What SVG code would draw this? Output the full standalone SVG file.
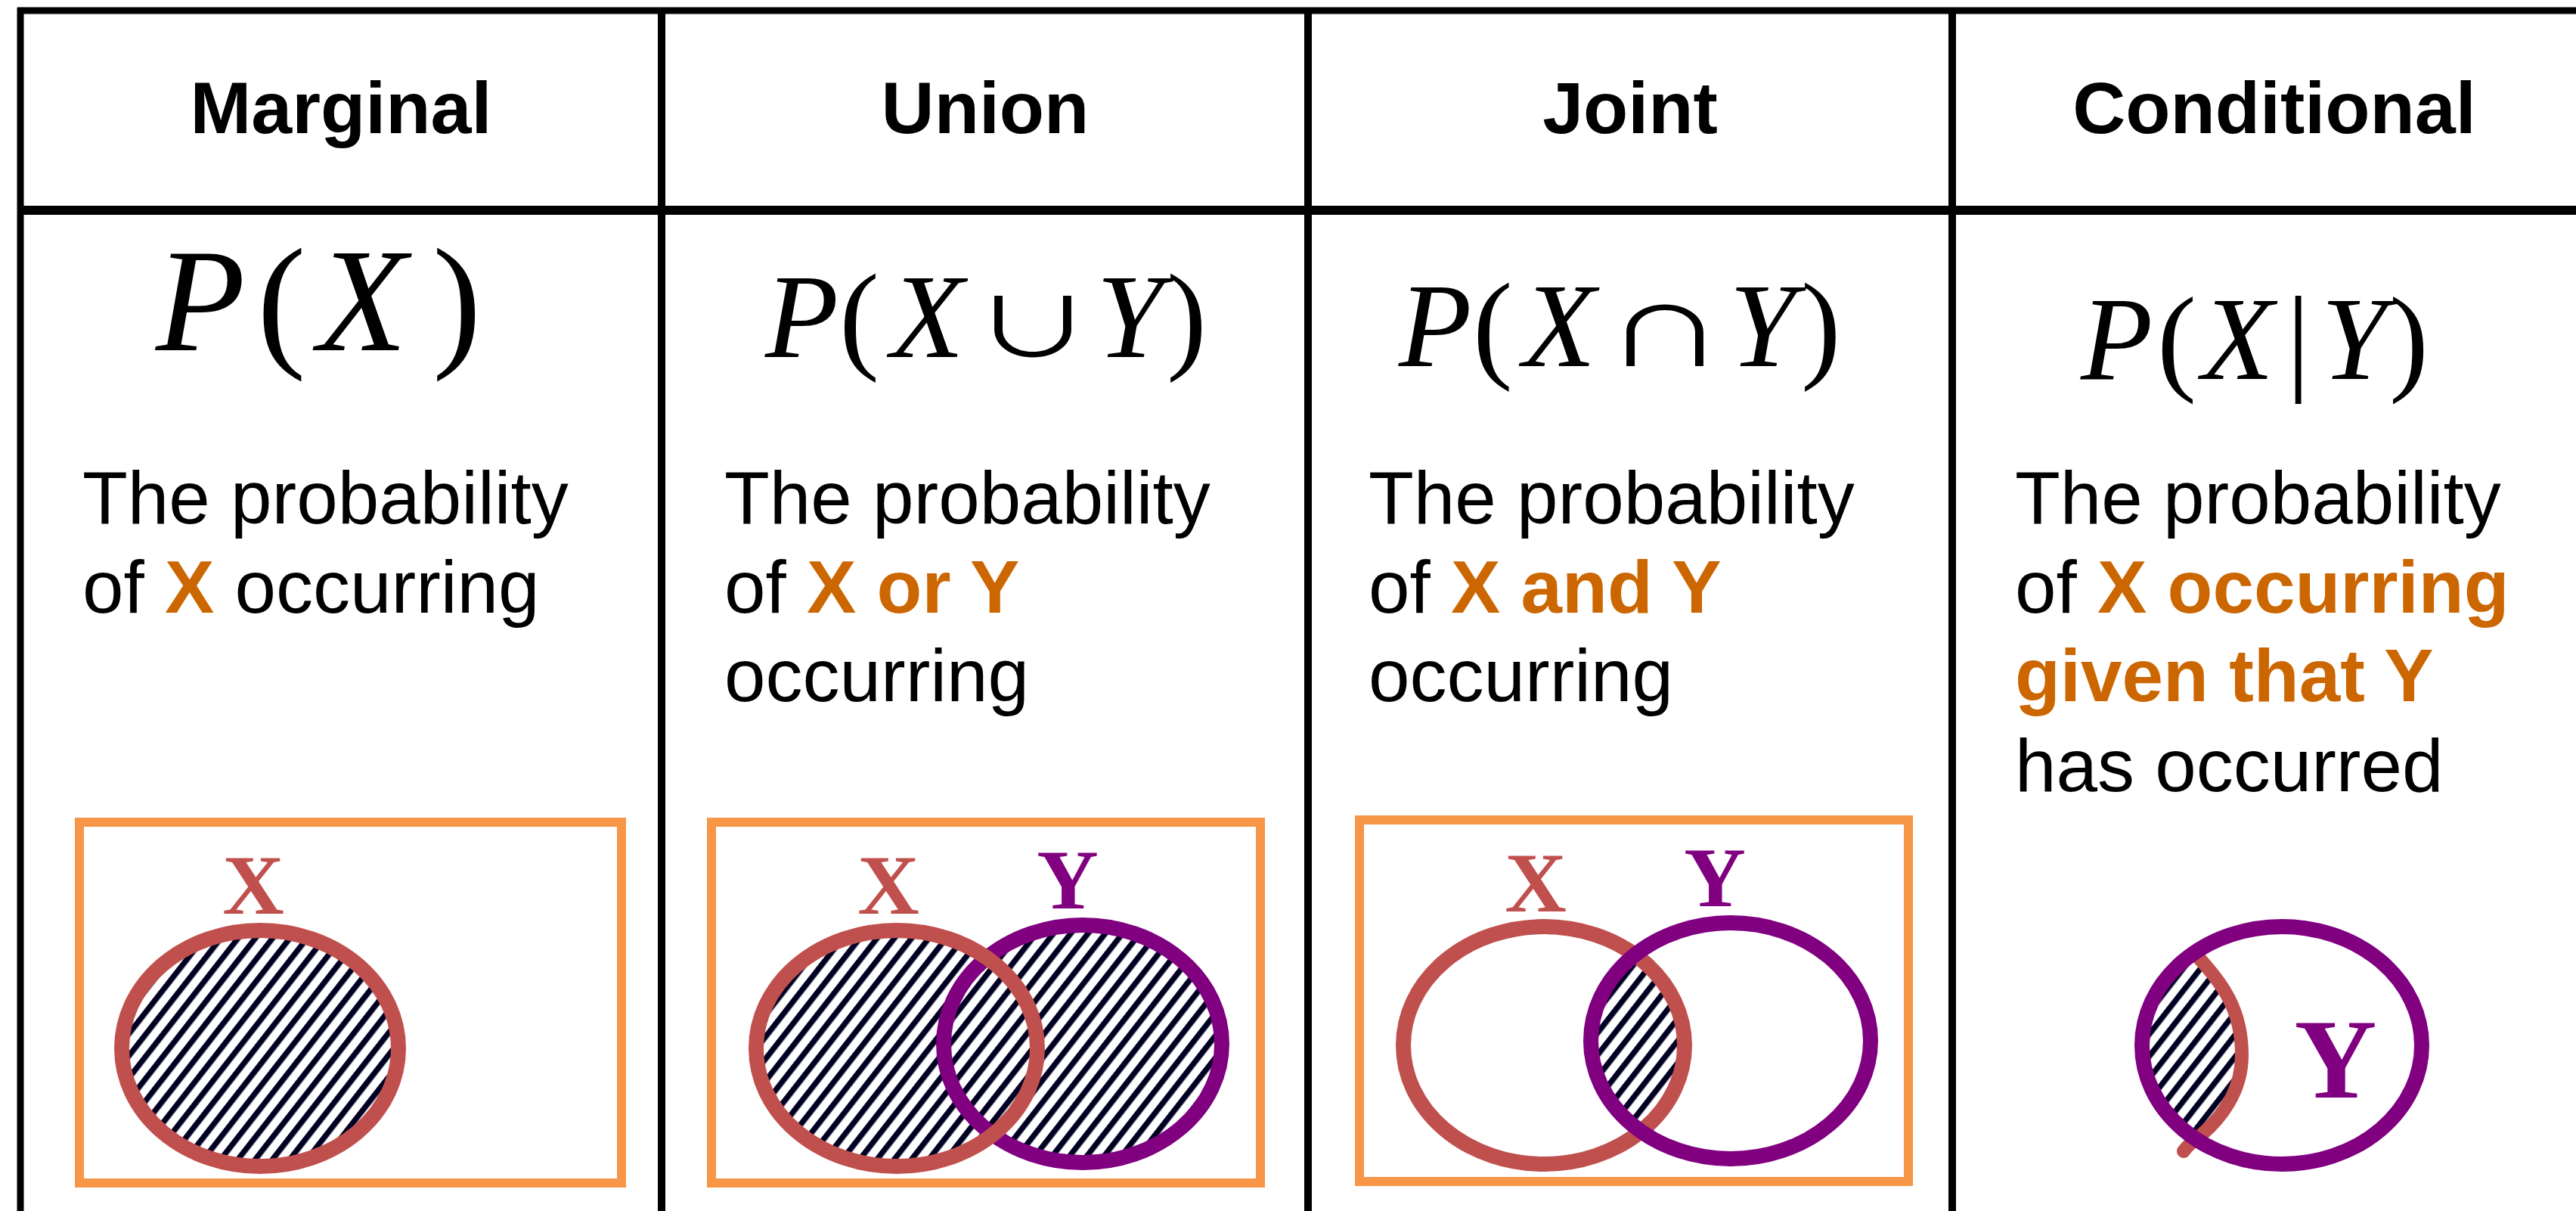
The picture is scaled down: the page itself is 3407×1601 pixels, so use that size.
<svg xmlns="http://www.w3.org/2000/svg" width="3407" height="1601" viewBox="0 0 3407 1601">
<style>
.rule{stroke:#000;fill:none}
.hdr{font-family:"Liberation Sans",Arial,sans-serif;font-weight:bold;font-size:97px;fill:#000;text-anchor:middle}
.desc{font-family:"Liberation Sans",Arial,sans-serif;font-size:98px;fill:#000}
.hl{font-weight:bold;fill:#CC6600}
.fm{font-family:"Liberation Serif","Times New Roman",serif;fill:#000}
.it{font-style:italic}
.op{font-family:"Noto Sans CJK JP","DejaVu Sans",sans-serif;font-size:158px;fill:#000}
.box{fill:none;stroke:#F79646;stroke-width:12}
.rx{fill:none;stroke:#C0504D;stroke-width:20}
.py{fill:none;stroke:#800080;stroke-width:20}
.lx{font-family:"Liberation Serif","Times New Roman",serif;font-weight:bold;font-size:113px;fill:#C0504D;text-anchor:middle}
.ly{font-family:"Liberation Serif","Times New Roman",serif;font-weight:bold;font-size:113px;fill:#800080;text-anchor:middle}
</style>
<defs>
<pattern id="hatch" patternUnits="userSpaceOnUse" width="18" height="18" patternTransform="rotate(-52)">
<rect width="18" height="18" fill="#fff"/>
<rect width="18" height="7.5" fill="#000022"/>
</pattern>
<clipPath id="clipX3"><ellipse cx="2042" cy="1382" rx="186" ry="157"/></clipPath>
<clipPath id="clipY4"><ellipse cx="3018" cy="1382" rx="185" ry="157"/></clipPath>
</defs>
<rect width="3407" height="1601" fill="#fff"/>

<g id="table">
<line class="rule" x1="23" y1="14" x2="3407" y2="14" stroke-width="9"/>
<line class="rule" x1="27" y1="10" x2="27" y2="1601" stroke-width="9"/>
<line class="rule" x1="23" y1="278" x2="3407" y2="278" stroke-width="12"/>
<line class="rule" x1="875" y1="10" x2="875" y2="1601" stroke-width="10"/>
<line class="rule" x1="1730" y1="10" x2="1730" y2="1601" stroke-width="10"/>
<line class="rule" x1="2582" y1="10" x2="2582" y2="1601" stroke-width="10"/>
</g>

<g id="col-marginal">
<text class="hdr" x="451" y="176">Marginal</text>
<text class="fm" font-size="194" y="463"><tspan class="it" x="206">P</tspan><tspan x="340">(</tspan><tspan class="it" x="420">X</tspan><tspan x="572">)</tspan></text>
<text class="desc" x="109" y="692">The probability</text>
<text class="desc" x="109" y="810">of <tspan class="hl">X</tspan> occurring</text>
<rect class="box" x="105" y="1087" width="717" height="477"/>
<text class="lx" x="335" y="1208">X</text>
<ellipse cx="344" cy="1386" rx="183" ry="156" fill="url(#hatch)"/>
<ellipse class="rx" cx="344" cy="1386" rx="183" ry="156"/>
</g>

<g id="col-union">
<text class="hdr" x="1303" y="176">Union</text>
<text class="fm" font-size="159" y="472"><tspan class="it" x="1012">P</tspan><tspan x="1110">(</tspan><tspan class="it" x="1178">X</tspan><tspan class="it" x="1450">Y</tspan><tspan x="1543">)</tspan></text>
<text class="op" text-anchor="middle" transform="translate(1366,472) scale(1,0.68)">∪</text>
<text class="desc" x="958" y="692">The probability</text>
<text class="desc" x="958" y="810">of <tspan class="hl">X or Y</tspan></text>
<text class="desc" x="958" y="927">occurring</text>
<rect class="box" x="941" y="1087" width="726" height="477"/>
<text class="lx" x="1175" y="1208">X</text>
<text class="ly" x="1412" y="1201">Y</text>
<ellipse cx="1186" cy="1386" rx="186" ry="156" fill="url(#hatch)"/>
<ellipse cx="1432" cy="1380" rx="184" ry="157" fill="url(#hatch)"/>
<ellipse class="py" cx="1432" cy="1380" rx="184" ry="157"/>
<ellipse class="rx" cx="1186" cy="1386" rx="186" ry="156"/>
</g>

<g id="col-joint">
<text class="hdr" x="2156" y="176">Joint</text>
<text class="fm" font-size="158" y="484"><tspan class="it" x="1850">P</tspan><tspan x="1948">(</tspan><tspan class="it" x="2014">X</tspan><tspan class="it" x="2287">Y</tspan><tspan x="2382">)</tspan></text>
<text class="op" text-anchor="middle" transform="translate(2202,484) scale(1,0.68)">∩</text>
<text class="desc" x="1810" y="692">The probability</text>
<text class="desc" x="1810" y="810">of <tspan class="hl">X and Y</tspan></text>
<text class="desc" x="1810" y="927">occurring</text>
<rect class="box" x="1798" y="1084" width="726" height="478"/>
<text class="lx" x="2031" y="1205">X</text>
<text class="ly" x="2268" y="1198">Y</text>
<ellipse cx="2289" cy="1376" rx="185" ry="156" fill="url(#hatch)" clip-path="url(#clipX3)"/>
<ellipse class="rx" cx="2042" cy="1382" rx="186" ry="157"/>
<ellipse class="py" cx="2289" cy="1376" rx="185" ry="156"/>
</g>

<g id="col-conditional">
<text class="hdr" x="3008" y="176">Conditional</text>
<text class="fm" font-size="156" y="501"><tspan class="it" x="2752">P</tspan><tspan x="2853">(</tspan><tspan class="it" x="2912">X</tspan><tspan x="3024">|</tspan><tspan class="it" x="3070">Y</tspan><tspan x="3160">)</tspan></text>
<text class="desc" x="2665" y="692">The probability</text>
<text class="desc" x="2665" y="810">of <tspan class="hl">X occurring</tspan></text>
<text class="desc" y="927"><tspan class="hl" x="2665">given that Y</tspan></text>
<text class="desc" x="2665" y="1046">has occurred</text>
<path d="M2904,1262 C2940,1300 2965,1335 2965,1395 C2965,1445 2935,1480 2912,1500 L2888,1522 L2780,1560 L2780,1200 Z" fill="url(#hatch)" clip-path="url(#clipY4)"/>
<path d="M2904,1262 C2940,1300 2965,1335 2965,1395 C2965,1445 2935,1480 2912,1500 Q2895,1512 2888,1522" fill="none" stroke="#C0504D" stroke-width="18" stroke-linecap="round"/>
<ellipse class="py" cx="3018" cy="1382" rx="185" ry="157"/>
<text class="ly" style="font-size:151px" x="3089" y="1451">Y</text>
</g>
</svg>
